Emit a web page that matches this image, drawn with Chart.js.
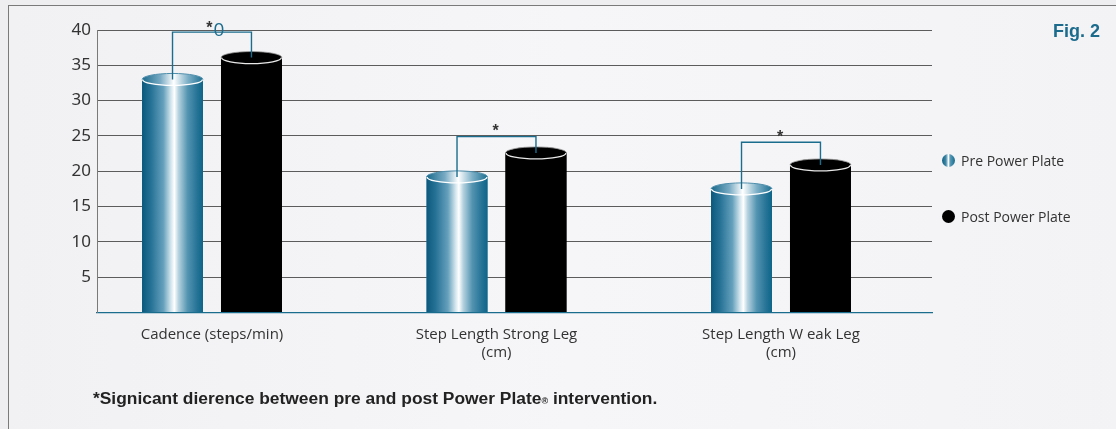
<!DOCTYPE html>
<html><head><meta charset="utf-8">
<script src="https://cdn.jsdelivr.net/npm/chart.js@4"></script>
<style>
html,body{margin:0;padding:0;width:1116px;height:429px;overflow:hidden;background:#eeeef1;}
#frame{position:absolute;left:8px;top:5px;width:1120px;height:440px;border-left:1px solid #7a7a7a;border-top:1px solid #7a7a7a;background:linear-gradient(90deg,#f1f1f4,#f6f6f9 50%,#f3f3f6);}
#wrap{position:absolute;left:0;top:0;width:1116px;height:429px;}
#fig{position:absolute;left:1053px;top:21px;line-height:1;font:bold 18px "Liberation Sans",Arial,sans-serif;color:#1a6b8c;}
.leg{position:absolute;left:942px;height:18px;font:14px "Open Sans",sans-serif;color:#333;display:flex;align-items:center;white-space:nowrap;}
.dot{width:13px;height:13px;border-radius:50%;margin-right:6px;}
#note{position:absolute;left:93px;top:388px;font:bold 17.4px "Liberation Sans",Arial,sans-serif;color:#222;white-space:nowrap;}
#note small{font-size:9px;}
</style>
</head><body>
<div id="frame"></div>
<div id="wrap"><canvas id="c" width="1116" height="429"></canvas></div>
<div id="fig">Fig. 2</div>
<div id="legend"></div>
<div id="note">*Signicant dierence between pre and post Power Plate<small>®</small> intervention.</div>
<script>
const categories = ['Cadence (steps/min)', ['Step Length Strong Leg', '(cm)'], ['Step Length W eak Leg', '(cm)']];
const seriesNames = ['Pre Power Plate', 'Post Power Plate'];
const preValues = [33.0, 19.2, 17.5];
const postValues = [36.1, 22.6, 20.9];
const yTickValues = [0, 5, 10, 15, 20, 25, 30, 35, 40];
const sigLevels = [39.7, 24.9, 24.1];
const sigMarks = ['*0', '*', '*'];

const TEAL = '#1b6d8e';

const legendEl = document.getElementById('legend');
const dotStyles = [
  'background:linear-gradient(90deg,#0e5f82 0%,#3f88a8 30%,#ffffff 50%,#5a9cba 62%,#156b8e 100%)',
  'background:#000'
];
const legTops = [151, 207];
seriesNames.forEach((n, i) => {
  const d = document.createElement('div');
  d.className = 'leg';
  d.style.top = legTops[i] + 'px';
  d.innerHTML = '<span class="dot" style="' + dotStyles[i] + '"></span><span></span>';
  d.lastChild.textContent = n;
  legendEl.appendChild(d);
});

function preGradient(ctx, l, r) {
  const g = ctx.createLinearGradient(l, 0, r, 0);
  g.addColorStop(0, '#0a597c');
  g.addColorStop(0.15, '#267296');
  g.addColorStop(0.35, '#65a0bc');
  g.addColorStop(0.47, '#cfe3ec');
  g.addColorStop(0.53, '#ffffff');
  g.addColorStop(0.6, '#b5d2df');
  g.addColorStop(0.75, '#5393b0');
  g.addColorStop(0.9, '#267497');
  g.addColorStop(1, '#0d6588');
  return g;
}
function preTopGradient(ctx, l, r) {
  const g = ctx.createLinearGradient(l, 0, r, 0);
  g.addColorStop(0, '#1a6a8c');
  g.addColorStop(0.3, '#77aac3');
  g.addColorStop(0.52, '#ffffff');
  g.addColorStop(0.75, '#7eb0c7');
  g.addColorStop(1, '#1d6f91');
  return g;
}

const cylinderPlugin = {
  id: 'cylinders',
  afterDatasetsDraw(chart) {
    const ctx = chart.ctx;
    chart.data.datasets.forEach((ds, di) => {
      const meta = chart.getDatasetMeta(di);
      meta.data.forEach(bar => {
        const p = bar.getProps(['x', 'y', 'base', 'width'], true);
        const w = p.width, l = p.x - w / 2, r = p.x + w / 2, ry = 6;
        ctx.save();
        if (di === 0) {
          ctx.fillStyle = preGradient(ctx, l, r);
          ctx.fillRect(l, p.y, w, p.base - p.y);
          ctx.beginPath(); ctx.ellipse(p.x, p.y, w / 2, ry, 0, 0, Math.PI * 2);
          ctx.fillStyle = preTopGradient(ctx, l, r); ctx.fill();
          ctx.beginPath(); ctx.ellipse(p.x, p.y, w / 2, ry, 0, Math.PI, Math.PI * 2);
          ctx.strokeStyle = '#4f8eab'; ctx.lineWidth = 1; ctx.stroke();
          ctx.beginPath(); ctx.ellipse(p.x, p.y, w / 2 - 0.5, ry, 0, 0, Math.PI);
          ctx.strokeStyle = '#ffffff'; ctx.lineWidth = 1.3; ctx.stroke();
        } else {
          ctx.fillStyle = '#000';
          ctx.fillRect(l, p.y, w, p.base - p.y);
          ctx.beginPath(); ctx.ellipse(p.x, p.y, w / 2, ry, 0, 0, Math.PI * 2);
          ctx.fill();
          ctx.beginPath(); ctx.ellipse(p.x, p.y, w / 2, ry, 0, Math.PI, Math.PI * 2);
          ctx.strokeStyle = '#9a9a9a'; ctx.lineWidth = 0.8; ctx.stroke();
          ctx.beginPath(); ctx.ellipse(p.x, p.y, w / 2 - 0.5, ry, 0, 0, Math.PI);
          ctx.strokeStyle = '#e8e8e8'; ctx.lineWidth = 1.3; ctx.stroke();
        }
        ctx.restore();
      });
    });
    const ys = chart.scales.y;
    const m0 = chart.getDatasetMeta(0), m1 = chart.getDatasetMeta(1);
    sigLevels.forEach((lvl, i) => {
      const a = m0.data[i], b = m1.data[i];
      const yt = ys.getPixelForValue(lvl);
      ctx.save();
      ctx.strokeStyle = TEAL; ctx.lineWidth = 1.4;
      ctx.beginPath();
      ctx.moveTo(a.x, a.y); ctx.lineTo(a.x, yt); ctx.lineTo(b.x, yt); ctx.lineTo(b.x, b.y);
      ctx.stroke();
      const mid = (a.x + b.x) / 2;
      const mark = sigMarks[i];
      ctx.textBaseline = 'alphabetic';
      if (mark.length === 1) {
        ctx.font = 'bold 16px "Liberation Sans", Arial, sans-serif';
        ctx.fillStyle = '#333'; ctx.textAlign = 'center';
        ctx.fillText(mark, mid - 1, yt - 0.5);
      } else {
        ctx.font = 'bold 16px "Liberation Sans", Arial, sans-serif';
        ctx.fillStyle = '#333'; ctx.textAlign = 'right';
        ctx.fillText(mark[0], mid + 0.5, yt + 1);
        ctx.font = '19px "Open Sans", sans-serif';
        ctx.fillStyle = TEAL; ctx.textAlign = 'left';
        ctx.fillText(mark.slice(1), mid + 1.5, yt + 4);
      }
      ctx.restore();
    });
  }
};

new Chart(document.getElementById('c'), {
  type: 'bar',
  data: {
    datasets: [
      { label: seriesNames[0], data: preValues.map((v, i) => ({ x: i, y: v })), backgroundColor: '#3b84a4',
        categoryPercentage: 0.555, barPercentage: 0.772 },
      { label: seriesNames[1], data: postValues.map((v, i) => ({ x: i, y: v })), backgroundColor: '#000',
        categoryPercentage: 0.555, barPercentage: 0.772 }
    ]
  },
  options: {
    responsive: false,
    animation: false,
    devicePixelRatio: 1,
    layout: { padding: { top: 30, right: 184, left: 0, bottom: 0 } },
    plugins: { legend: { display: false }, tooltip: { enabled: false } },
    scales: {
      x: {
        type: 'linear', bounds: 'data', offset: false, min: -0.4042, max: 2.5308,
        afterBuildTicks: s => { s.ticks = categories.map((c, i) => ({ value: i })); },
        afterFit: s => { s.height = 116.5; },
        ticks: { callback: v => categories[v], font: { family: 'Open Sans', size: 15 }, color: '#333',
          padding: 13, maxRotation: 0, autoSkip: false },
        grid: { display: false, drawTicks: false, offset: false },
        border: { color: TEAL, width: 1.3 }
      },
      y: {
        min: 0, max: 40,
        afterBuildTicks: s => { s.ticks = yTickValues.map(v => ({ value: v })); },
        afterFit: s => { s.width = 97; },
        ticks: { callback: v => (v === 0 ? '' : v), font: { family: 'Noto Sans', size: 17 }, color: '#333', padding: 6 },
        grid: { color: '#5c5c5c', lineWidth: 1, drawTicks: false },
        border: { color: '#7a7a7a', width: 1 }
      }
    }
  },
  plugins: [cylinderPlugin]
});
</script>
</body></html>
